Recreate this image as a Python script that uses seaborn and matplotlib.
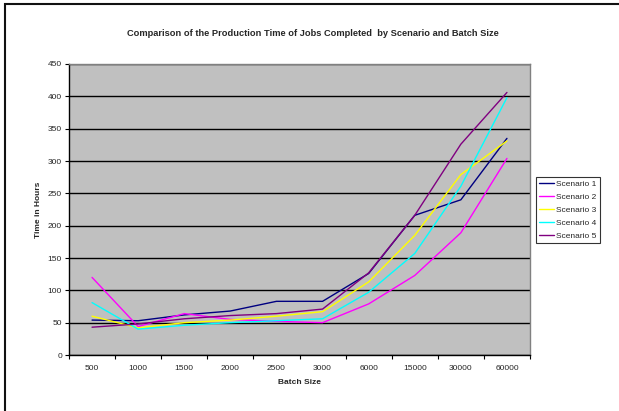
import pandas as pd
import matplotlib.pyplot as plt
import seaborn as sns
from matplotlib.patches import Rectangle
from matplotlib.ticker import FixedLocator

sns.set_theme(style="white")
plt.rcParams['font.family'] = ['Liberation Sans', 'DejaVu Sans']

batch_sizes = ['500', '1000', '1500', '2000', '2500', '3000', '6000', '15000', '30000', '60000']
scenario_1 = [54, 53, 62, 68, 83, 83, 126, 216, 240, 335]
scenario_2 = [120, 44, 64, 55, 52, 50, 79, 123, 189, 304]
scenario_3 = [60, 42, 50, 54, 60, 67, 113, 185, 279, 331]
scenario_4 = [81, 40, 46, 50, 53, 56, 97, 157, 261, 398]
scenario_5 = [43, 48, 56, 61, 64, 71, 127, 216, 326, 406]

names = ['Scenario 1', 'Scenario 2', 'Scenario 3', 'Scenario 4', 'Scenario 5']
colors = ['#000080', '#FF00FF', '#FFFF00', '#00FFFF', '#800080']

rows = []
for name, vals in zip(names, [scenario_1, scenario_2, scenario_3, scenario_4, scenario_5]):
    for b, v in zip(batch_sizes, vals):
        rows.append({'Batch Size': b, 'Time': v, 'Scenario': name})
df = pd.DataFrame(rows)

fig = plt.figure(figsize=(6.19, 4.11), dpi=100)
ax = fig.add_axes([69 / 619, 1 - 355 / 411, 461 / 619, 291 / 411])
ax.set_facecolor('#C0C0C0')

sns.lineplot(data=df, x='Batch Size', y='Time', hue='Scenario', palette=colors,
             linewidth=1.0, ax=ax, sort=False)

ax.set_xlim(-0.5, len(batch_sizes) - 0.5)
ax.set_ylim(0, 450)
ax.set_yticks(range(0, 451, 50))
ax.yaxis.grid(True, color='black', linewidth=1.0)
ax.set_axisbelow(True)
ax.set_xticks(range(len(batch_sizes)))
ax.set_xticklabels(batch_sizes)
ax.xaxis.set_minor_locator(FixedLocator([i - 0.5 for i in range(len(batch_sizes) + 1)]))
ax.tick_params(axis='x', which='major', length=0, labelsize=6, pad=7)
ax.tick_params(axis='x', which='minor', length=3, width=0.8, color='black', direction='out', bottom=True)
ax.tick_params(axis='y', which='major', length=3, width=0.8, color='black', direction='out',
               left=True, labelsize=6, pad=2)
for s in ax.spines.values():
    s.set_color('#808080')
    s.set_linewidth(1.0)
ax.spines['left'].set_color('black')
ax.spines['bottom'].set_color('black')

ax.set_xlabel('Batch Size', fontsize=6, fontweight='bold', labelpad=5)
ax.set_ylabel('Time in Hours', fontsize=6, fontweight='bold', labelpad=4)

fig.text(313 / 619, 1 - 33 / 411,
         'Comparison of the Production Time of Jobs Completed  by Scenario and Batch Size',
         ha='center', va='center', fontsize=6.7, fontweight='bold')

leg = ax.legend(loc='upper left', bbox_to_anchor=(536 / 619, 1 - 177 / 411),
                bbox_transform=fig.transFigure, fontsize=6, frameon=True,
                fancybox=False, edgecolor='black', borderpad=0.4, labelspacing=0.62,
                handlelength=1.7, handletextpad=0.3, borderaxespad=0)
leg.get_frame().set_linewidth(0.8)
for line in leg.get_lines():
    line.set_linewidth(1.0)

fig.patches.append(Rectangle((5 / 619, -10 / 411), 630 / 619, 417 / 411, transform=fig.transFigure,
                             fill=False, edgecolor='#111111', linewidth=1.5))

fig.savefig('out.png', dpi=100)
